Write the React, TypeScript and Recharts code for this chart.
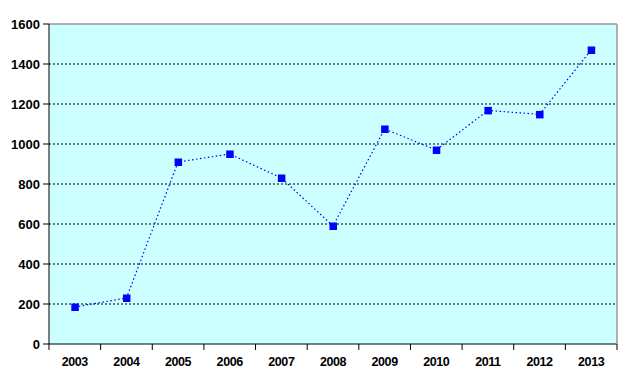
import React from "react";
import {
  LineChart,
  Line,
  XAxis,
  YAxis,
  CartesianGrid,
} from "recharts";

const years = ["2003", "2004", "2005", "2006", "2007", "2008", "2009", "2010", "2011", "2012", "2013"];
const values = [185, 230, 910, 950, 830, 590, 1075, 970, 1168, 1148, 1470];
const yTicks = [0, 200, 400, 600, 800, 1000, 1200, 1400, 1600];

const data = years.map((year, i) => ({ year, value: values[i] }));

const FONT = "'Liberation Sans', Arial, sans-serif";

const XTick = (props: any) => {
  const { x, y, payload, index, visibleTicksCount } = props;
  const off = payload && payload.offset != null ? payload.offset : 0;
  const isLast = index === visibleTicksCount - 1;
  return (
    <g>
      <line x1={x - off} x2={x - off} y1={y} y2={y + 6} stroke="#000" strokeWidth={1} />
      {isLast && (
        <line x1={x + off} x2={x + off} y1={y} y2={y + 6} stroke="#000" strokeWidth={1} />
      )}
      <text
        x={x}
        y={y + 22}
        textAnchor="middle"
        fontFamily={FONT}
        fontWeight="bold"
        fontSize={12.5}
        letterSpacing={-0.4}
        fill="#000"
      >
        {payload.value}
      </text>
    </g>
  );
};

const SquareDot = (props: any) => {
  const { cx, cy } = props;
  if (cx == null || cy == null) return null;
  return <rect x={cx - 3.5} y={cy - 3.5} width={7.5} height={7.5} fill="#0000ff" stroke="none" />;
};

export default function App() {
  return (
    <div style={{ position: "absolute", left: 0, top: 0, width: 640, height: 385, background: "#fff" }}>
      <LineChart
        width={640}
        height={385}
        data={data}
        margin={{ top: 0, right: 0, bottom: 0, left: 0 }}
      >
        <CartesianGrid
          horizontal={true}
          vertical={false}
          fill="#ccffff"
          stroke="#000"
          strokeDasharray="2 2"
          horizontalValues={[200, 400, 600, 800, 1000, 1200, 1400]}
        />
        <XAxis
          xAxisId="top"
          orientation="top"
          dataKey="year"
          scale="band"
          height={24}
          tick={false}
          tickLine={false}
          axisLine={{ stroke: "#999999", strokeWidth: 1.5 }}
        />
        <XAxis
          dataKey="year"
          scale="band"
          height={41}
          tickSize={0}
          tickMargin={0}
          tickLine={false}
          axisLine={{ stroke: "#000", strokeWidth: 1 }}
          tick={<XTick />}
          interval={0}
        />
        <YAxis
          yAxisId="right"
          orientation="right"
          width={23}
          domain={[0, 1600]}
          ticks={yTicks}
          tick={false}
          tickLine={false}
          axisLine={{ stroke: "#999999", strokeWidth: 1.5 }}
        />
        <YAxis
          width={49}
          domain={[0, 1600]}
          ticks={yTicks}
          interval={0}
          tickSize={6}
          tickMargin={3}
          tickLine={{ stroke: "#000" }}
          axisLine={{ stroke: "#000" }}
          tick={{ fill: "#000", fontFamily: FONT, fontWeight: "bold", fontSize: 13 }}
        />
        <Line
          dataKey="value"
          stroke="#0000ff"
          strokeWidth={1.2}
          strokeDasharray="1.5 2.5"
          dot={<SquareDot />}
          activeDot={false}
          isAnimationActive={false}
        />
      </LineChart>
    </div>
  );
}
